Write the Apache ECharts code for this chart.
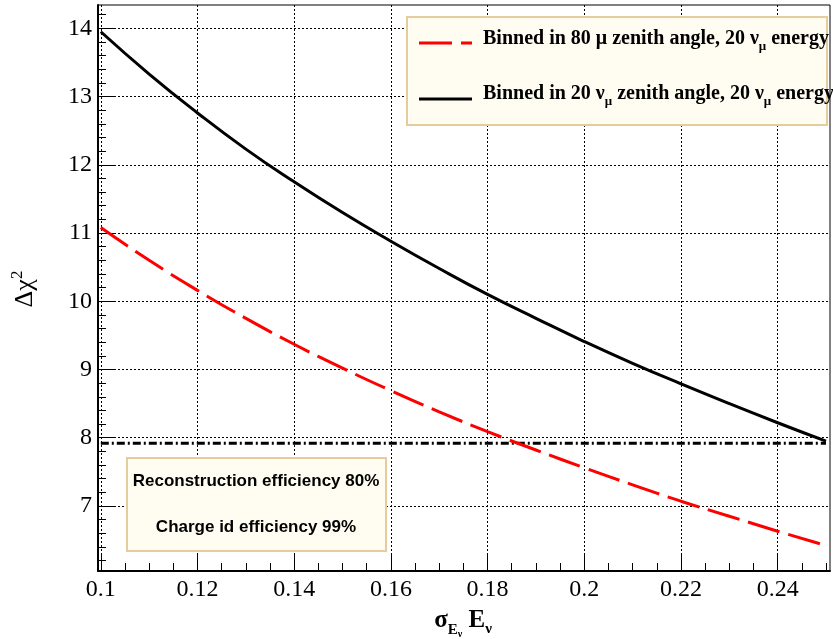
<!DOCTYPE html>
<html><head><meta charset="utf-8">
<script src="https://cdn.jsdelivr.net/npm/echarts@6/dist/echarts.min.js"></script>
<style>html,body{margin:0;padding:0;background:#fff}#c{width:833px;height:639px}</style>
</head><body><div id="c"></div>
<script>
// ---- data ----
const sigma = [0.10,0.11,0.12,0.13,0.14,0.15,0.16,0.17,0.18,0.19,0.20,0.21,0.22,0.23,0.24,0.25];
const chi2_80mu = [11.08,10.60,10.16,9.75,9.37,9.02,8.69,8.38,8.09,7.82,7.56,7.31,7.07,6.85,6.63,6.42];
const chi2_20nu = [13.95,13.33,12.76,12.23,11.75,11.30,10.88,10.48,10.10,9.75,9.41,9.09,8.79,8.50,8.22,7.95];
const threshold = 7.92;
const xMajorTicks = [0.10,0.12,0.14,0.16,0.18,0.20,0.22,0.24];
const yMajorTicks = [7,8,9,10,11,12,13,14];
const legendLabels = ['Binned in 80 \u03bc zenith angle, 20 \u03bd', 'Binned in 20 \u03bd'];
const infoLines = ['Reconstruction efficiency 80%', 'Charge id efficiency 99%'];

// ---- layout ----
const X_MIN = 0.09942, X_MAX = 0.25083, Y_MIN = 6.047, Y_MAX = 14.342;
const xMinor = [], yMinor = [];
for (let i = 20; i <= 50; i++) { const v = +(i*0.005).toFixed(3); if (i % 4 !== 0) xMinor.push(v); }
for (let i = 31; i <= 71; i++) { const v = +(i*0.2).toFixed(1); if (i % 5 !== 0) yMinor.push(v); }

const cv = document.createElement('canvas').getContext('2d');
function runs(parts, x, baseline, align) {
  const w = parts.map(p => { cv.font = `${p.weight||'normal'} ${p.size}px ${p.family}`; return cv.measureText(p.text).width; });
  const total = w.reduce((a,b)=>a+b,0);
  let cx = align === 'center' ? x - total/2 : x;
  const out = [];
  parts.forEach((p,i) => {
    out.push({type:'text', z:120, style:{x:cx, y: baseline + (p.dy||0) - 0.34*p.size, text:p.text,
      fontSize:p.size, fontFamily:p.family, fontWeight:p.weight||'normal', fill:p.color||'#000',
      align:'left', verticalAlign:'middle'}});
    cx += w[i];
  });
  return out;
}
const SERIF = 'Liberation Serif';
const SANS = 'Liberation Sans';
const B = (t, size, dy) => ({text:t, size:size, dy:dy||0, weight:'bold', family:SERIF});

const graphics = [
  {type:'rect', z:60, shape:{x:98, y:5, width:732, height:566}, style:{fill:'none', stroke:'#000', lineWidth:1}},
  // legend box
  {type:'rect', z:110, shape:{x:407, y:17, width:420, height:108}, style:{fill:'#fffdf2', stroke:'#e6cb9f', lineWidth:2}},
  {type:'line', z:115, shape:{x1:419, y1:43, x2:472, y2:43}, style:{stroke:'#ff0000', lineWidth:3, lineDash:[33,9]}},
  {type:'line', z:115, shape:{x1:419, y1:99, x2:472, y2:99}, style:{stroke:'#000', lineWidth:3}},
  // info box
  {type:'rect', z:110, shape:{x:127, y:458, width:259, height:93}, style:{fill:'#fffdf2', stroke:'#e6cb9f', lineWidth:2}},
  {type:'text', z:120, style:{x:256, y:481, text:infoLines[0], fontFamily:SANS, fontWeight:'bold', fontSize:17, fill:'#000', align:'center', verticalAlign:'middle'}},
  {type:'text', z:120, style:{x:256, y:527, text:infoLines[1], fontFamily:SANS, fontWeight:'bold', fontSize:17, fill:'#000', align:'center', verticalAlign:'middle'}},
  ...runs([B(legendLabels[0],20), B('\u03bc',13,5), B(' energy',20)], 483, 46, 'left'),
  ...runs([B(legendLabels[1],20), B('\u03bc',13,5), B(' zenith angle, 20 \u03bd',20), B('\u03bc',13,5), B(' energy',20)], 483, 101, 'left'),
  // x title
  ...runs([B('\u03c3',25), B('E',15,6), B('\u03bd',10,9), B(' E',25), B('\u03bd',15,5)], 463, 629, 'center'),
  // y title
  {type:'group', x:34, y:289, rotation:Math.PI/2, children:
    runs([{text:'\u0394\u03c7', size:26, family:SERIF}, {text:'2', size:17, dy:-11, family:SERIF}], 0, 0, 'center')}
];

const fmt = v => '{n|' + String(+v.toFixed(3)) + '}';
const numRich = {n:{fontFamily:SERIF, fontSize:24, color:'#000'}};
const option = {
  animation:false,
  textStyle:{fontFamily:SERIF},
  grid:{left:98, top:5, width:732, height:566, containLabel:false},
  xAxis:[
    {type:'value', min:X_MIN, max:X_MAX, position:'bottom',
     axisLine:{show:true, onZero:false, lineStyle:{color:'#000', width:2}},
     axisTick:{show:true, inside:true, length:16, customValues:xMajorTicks, lineStyle:{color:'#000', width:1}},
     axisLabel:{show:true, customValues:xMajorTicks, formatter:fmt, rich:numRich, fontFamily:SERIF, fontSize:24, color:'#000', margin:7},
     splitLine:{show:true, lineStyle:{color:'#000', width:1, type:[2,2]}}},
    {type:'value', min:X_MIN, max:X_MAX, position:'bottom',
     axisLine:{show:false}, axisLabel:{show:false}, splitLine:{show:false},
     axisTick:{show:true, inside:true, length:8, customValues:xMinor, lineStyle:{color:'#000', width:1}}}
  ],
  yAxis:[
    {type:'value', min:Y_MIN, max:Y_MAX, position:'left',
     axisLine:{show:true, onZero:false, lineStyle:{color:'#000', width:2}},
     axisTick:{show:true, inside:true, length:16, customValues:yMajorTicks, lineStyle:{color:'#000', width:1}},
     axisLabel:{show:true, customValues:yMajorTicks, formatter:fmt, rich:numRich, fontFamily:SERIF, fontSize:24, color:'#000', margin:6},
     splitLine:{show:true, lineStyle:{color:'#000', width:1, type:[2,2]}}},
    {type:'value', min:Y_MIN, max:Y_MAX, position:'left',
     axisLine:{show:false}, axisLabel:{show:false}, splitLine:{show:false},
     axisTick:{show:true, inside:true, length:8, customValues:yMinor, lineStyle:{color:'#000', width:1}}}
  ],
  series:[
    {type:'line', xAxisIndex:0, yAxisIndex:0, data:sigma.map((x,i)=>[x, chi2_20nu[i]]), smooth:true, showSymbol:false,
     lineStyle:{color:'#000', width:3}, itemStyle:{color:'#000'}, z:5},
    {type:'line', xAxisIndex:0, yAxisIndex:0, data:sigma.map((x,i)=>[x, chi2_80mu[i]]), smooth:true, showSymbol:false,
     lineStyle:{color:'#ff0000', width:3, type:[33,9]}, itemStyle:{color:'#ff0000'}, z:5},
    {type:'line', xAxisIndex:0, yAxisIndex:0, data:[[sigma[0], threshold],[sigma[sigma.length-1], threshold]], showSymbol:false,
     lineStyle:{color:'#000', width:3, type:[8,3,2,3]}, itemStyle:{color:'#000'}, z:4}
  ],
  graphic:graphics
};
const chart = echarts.init(document.getElementById('c'), null, {renderer:'canvas'});
chart.setOption(option);
</script></body></html>
